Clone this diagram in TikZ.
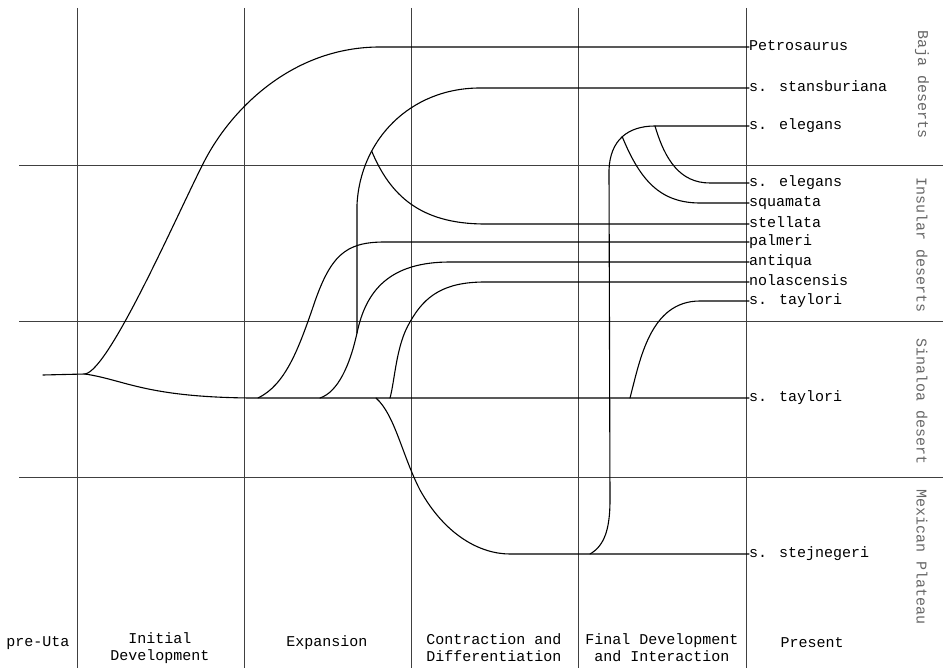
\documentclass[tikz,border=0pt]{standalone}
\usepackage{fontspec}
\newfontfamily\tw{Liberation Mono}
\tikzset{
  gridline/.style={line width=0.9pt, black!75},
  branch/.style={line width=1.1pt, line cap=round, line join=round},
  lbl/.style={font=\tw\fontsize{15}{17}\selectfont, inner sep=0pt, text height=7pt, text depth=0pt, anchor=west},
  region/.style={font=\tw\fontsize{15}{17}\selectfont, text=black!60, rotate=-90, inner sep=0pt},
  period/.style={font=\tw\fontsize{15}{17}\selectfont, align=center, inner sep=0pt},
}
\begin{document}
\begin{tikzpicture}[x=1pt,y=-1pt]
\useasboundingbox (0,0) rectangle (943,668);
% grid
\foreach \xx in {77,244,411,578,746} \draw[gridline] (\xx,8) -- (\xx,668);
\foreach \yy in {165,321,477} \draw[gridline] (19,\yy) -- (943,\yy);
% species labels
\node[lbl] (petro) at (749,47) {Petrosaurus};
\node[lbl] (stans) at (749,88) {s. stansburiana};
\node[lbl] (eleg1) at (749,126) {s. elegans};
\node[lbl] (eleg2) at (749,183) {s. elegans};
\node[lbl] (squam) at (749,203) {squamata};
\node[lbl] (stell) at (749,224) {stellata};
\node[lbl] (palm) at (749,242) {palmeri};
\node[lbl] (antiq) at (749,262) {antiqua};
\node[lbl] (nolas) at (749,282) {nolascensis};
\node[lbl] (tayl1) at (749,301) {s. taylori};
\node[lbl] (tayl2) at (749,398) {s. taylori};
\node[lbl] (stej) at (749,554) {s. stejnegeri};
% region labels
\node[region] (baja) at (922,85) {Baja deserts};
\node[region] (insular) at (922,245) {Insular deserts};
\node[region] (sinaloa) at (922,402) {Sinaloa desert};
\node[region] (mexican) at (922,557) {Mexican Plateau};
% period labels
\node[period] (pre) at (38,643) {pre-Uta};
\node[period] (init) at (160,648) {Initial\\Development};
\node[period] (expan) at (327,643) {Expansion};
\node[period] (contr) at (494,648) {Contraction and\\Differentiation};
\node[period] (final) at (662,648) {Final Development\\and Interaction};
\node[period] (pres) at (812,643) {Present};
% branch coordinates
\coordinate (start) at (43,375);
\coordinate (fork) at (85,374);
\coordinate (p0) at (258,398);
\coordinate (a0) at (320,398);
\coordinate (s0) at (376,398);
\coordinate (n0) at (390,398);
\coordinate (t0) at (630,398);
\coordinate (f0) at (590,554);
\coordinate (br3) at (655,126);
% curves
\draw[branch] (start) -- (fork);
\draw[branch] (fork) .. controls (110,370) and (180,208) .. (205,160)
   .. controls (230,112) and (290,47) .. (380,47) -- (petro.west);
\draw[branch] (fork) .. controls (125,380) and (145,397) .. (250,398) -- (tayl2.west);
\draw[branch] (p0) .. controls (285,385) and (298,350) .. (312,310)
   .. controls (330,255) and (345,242) .. (385,242) -- (palm.west);
\draw[branch] (a0) .. controls (338,392) and (350,365) .. (357,333) coordinate (ajoin)
   .. controls (366,290) and (390,262) .. (450,262) -- (antiq.west);
\draw[branch] (ajoin) -- (357,205) .. controls (360,140) and (410,88) .. (480,88)
   coordinate[pos=0.3] (br1) -- (stans.west);
\draw[branch] (br1) .. controls (390,195) and (420,224) .. (485,224) -- (stell.west);
\draw[branch] (n0) .. controls (395,380) and (396,345) .. (410,322)
   .. controls (425,295) and (445,282) .. (485,282) -- (nolas.west);
\draw[branch] (s0) .. controls (395,415) and (402,455) .. (420,490)
   .. controls (445,535) and (480,554) .. (510,554) -- (stej.west);
\draw[branch] (f0) .. controls (604,546) and (610,530) .. (610,500) -- (609,170)
   .. controls (610,140) and (628,126) .. (br3) coordinate[pos=0.5] (br2) -- (eleg1.west);
\draw[branch] (br2) .. controls (640,180) and (660,203) .. (700,203) -- (squam.west);
\draw[branch] (br3) .. controls (665,160) and (680,183) .. (710,183) -- (eleg2.west);
\draw[branch] (t0) .. controls (640,360) and (650,301) .. (700,301) -- (tayl1.west);
\end{tikzpicture}
\end{document}
